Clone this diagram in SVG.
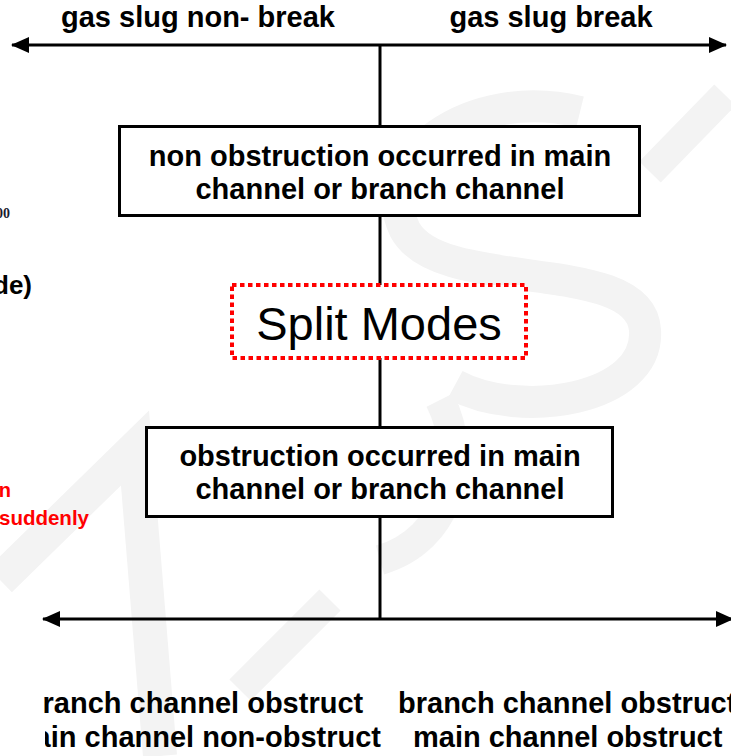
<svg xmlns="http://www.w3.org/2000/svg" width="731" height="756" viewBox="0 0 731 756">
<style>
.bt{font-family:"Liberation Sans",Arial,sans-serif;font-weight:bold;font-size:29px;fill:#000}
.ln{stroke:#000;stroke-width:3;fill:none}
.box{fill:#fff;stroke:#000;stroke-width:3}
.wm{stroke:#f3f3f3;fill:none;stroke-linecap:butt}
</style>
<defs>
<marker id="ah" viewBox="0 0 18 16" refX="17" refY="8" markerWidth="18" markerHeight="16" markerUnits="userSpaceOnUse" orient="auto-start-reverse">
<path d="M0,0 L18,8 L0,16 Z" fill="#000"/>
</marker>
<clipPath id="lc1"><rect x="42.5" y="660" width="400" height="60"/></clipPath>
<clipPath id="lc2"><rect x="45" y="720" width="400" height="36"/></clipPath>
</defs>
<rect width="731" height="756" fill="#fff"/>
<g id="watermark">
<path class="wm" stroke-width="34" d="M0,580 L135,448 L160,756"/>
<path class="wm" stroke-width="30" d="M330,600 L240,690"/>
<path class="wm" stroke-width="30" d="M725,95 L650,172"/>
<path class="wm" stroke-width="32" d="M580,112 C470,85 370,160 405,230 C440,295 640,255 645,330 C650,400 520,420 455,385"/>
<path class="wm" stroke-width="30" d="M440,400 C470,460 450,540 380,560"/>
</g>
<g id="fragments">
<text x="10" y="218" text-anchor="end" style="font-family:'Liberation Serif',serif;font-weight:bold;font-size:14px;fill:#1a1a2e">00</text>
<text x="32" y="294" text-anchor="end" style="font-family:'Liberation Sans',Arial,sans-serif;font-weight:bold;font-size:26px">de)</text>
<text x="11" y="497" text-anchor="end" style="font-family:'Liberation Sans',Arial,sans-serif;font-weight:bold;font-size:20px;fill:#f00">n</text>
<text x="89" y="525" text-anchor="end" style="font-family:'Liberation Sans',Arial,sans-serif;font-weight:bold;font-size:20.5px;fill:#f00">suddenly</text>
</g>
<g id="connectors">
<line class="ln" x1="12" y1="45" x2="726" y2="45" marker-start="url(#ah)" marker-end="url(#ah)"/>
<line class="ln" x1="380" y1="45" x2="380" y2="126"/>
<line class="ln" x1="380" y1="216" x2="380" y2="285"/>
<line class="ln" x1="380" y1="358" x2="380" y2="427"/>
<line class="ln" x1="380" y1="517" x2="380" y2="620"/>
<line class="ln" x1="43" y1="619" x2="733" y2="619" marker-start="url(#ah)" marker-end="url(#ah)"/>
</g>
<g id="label-top">
<text class="bt" x="198" y="27" text-anchor="middle">gas slug non- break</text>
<text class="bt" x="551" y="27" text-anchor="middle">gas slug break</text>
</g>
<g id="node-nonobstruction">
<rect class="box" x="119.5" y="126.5" width="520" height="89"/>
<text class="bt" x="380" y="166" text-anchor="middle">non obstruction occurred in main</text>
<text class="bt" x="380" y="199" text-anchor="middle">channel or branch channel</text>
</g>
<g id="node-split">
<rect x="232" y="285" width="294" height="73" fill="#fff" stroke="#f00" stroke-width="4" stroke-dasharray="4.5 3.5"/>
<text x="379" y="340" text-anchor="middle" style="font-family:'Liberation Sans',Arial,sans-serif;font-size:47px;fill:#000">Split Modes</text>
</g>
<g id="node-obstruction">
<rect class="box" x="146.5" y="427.5" width="466" height="89"/>
<text class="bt" x="380" y="466" text-anchor="middle">obstruction occurred in main</text>
<text class="bt" x="380" y="499" text-anchor="middle">channel or branch channel</text>
</g>
<g id="label-bottom-left">
<text class="bt" x="42.5" y="713" clip-path="url(#lc1)">ranch channel obstruct</text>
<text class="bt" x="381" y="747" text-anchor="end" clip-path="url(#lc2)">ain channel non-obstruct</text>
</g>
<g id="label-bottom-right">
<text class="bt" x="398" y="713">branch channel obstruct</text>
<text class="bt" x="413" y="747">main channel obstruct</text>
</g>
</svg>
